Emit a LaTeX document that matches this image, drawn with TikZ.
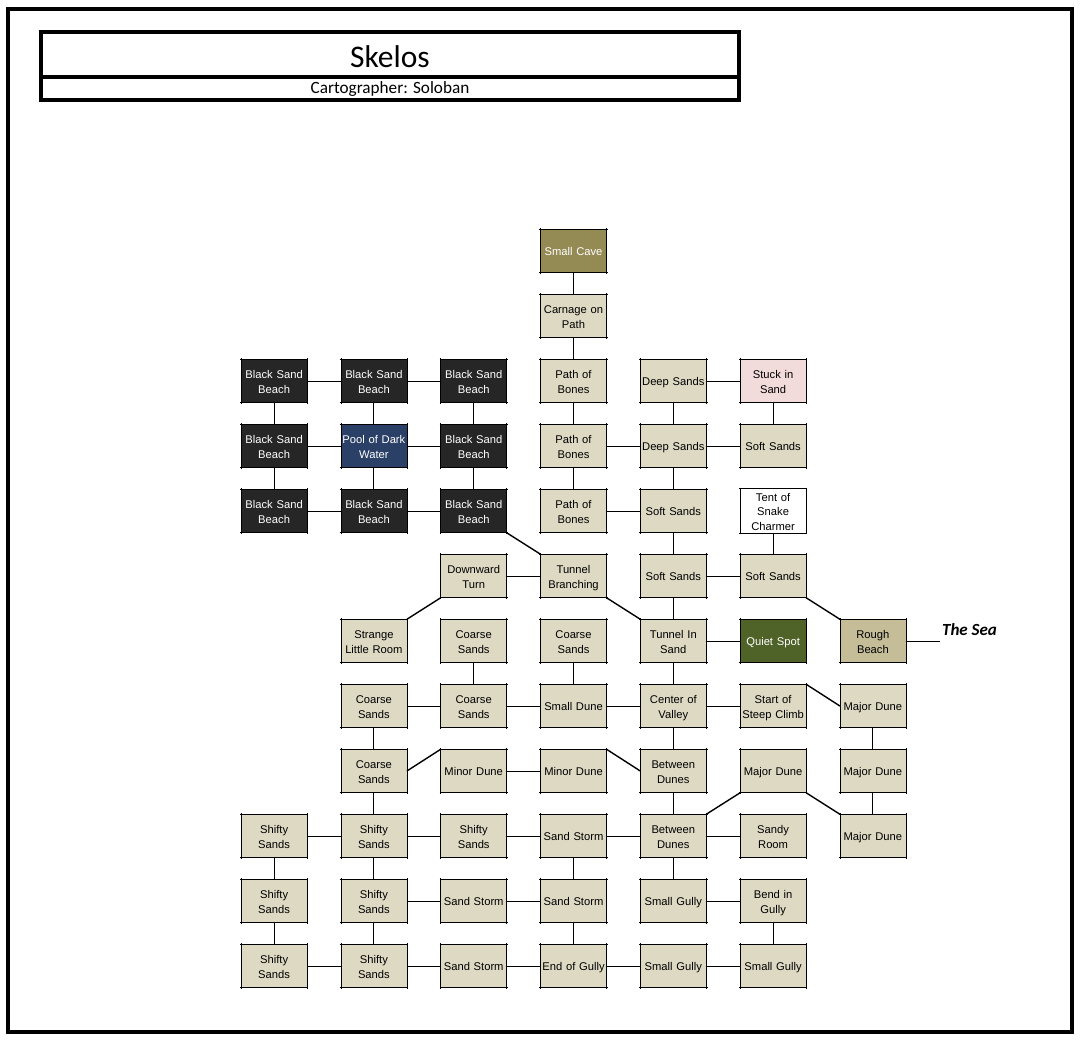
\documentclass[tikz,border=0pt]{standalone}
\usepackage{fontspec}
\setmainfont{Liberation Sans}
\newfontfamily\titlefont{Carlito}
\usetikzlibrary{positioning}
\newcommand{\roomstrut}{\rule[-2.4pt]{0pt}{14.7pt}}

\begin{document}
\begin{tikzpicture}[x=1pt, y=-1pt, node distance=21.5pt and 33.8pt,
		tick/.style={draw, line width=.8pt},
		room/.style={rectangle, draw, line width=.8pt, fill=sand, minimum width=66pt, minimum height=43.5pt, text width=66pt, inner sep=0pt, outer sep=0pt, align=center, font=\fontsize{11.2}{14.8}\selectfont, execute at begin node=\roomstrut, execute at end node=\roomstrut,
			append after command={([xshift=-1.2pt]\tikzlastnode.north west) edge[tick] ([xshift=1.2pt]\tikzlastnode.north east) ([xshift=-1.2pt]\tikzlastnode.south west) edge[tick] ([xshift=1.2pt]\tikzlastnode.south east) ([yshift=1.2pt]\tikzlastnode.north west) edge[tick] ([yshift=-1.2pt]\tikzlastnode.south west) ([yshift=1.2pt]\tikzlastnode.north east) edge[tick] ([yshift=-1.2pt]\tikzlastnode.south east)}},
		black/.style={room, fill=beach, text=white},
		link/.style={line width=1pt},
		diag/.style={line width=1.4pt},
		heavy/.style={line width=4pt}]
		\definecolor{sand}{HTML}{DDD9C3}
		\definecolor{beach}{HTML}{262626}
		\useasboundingbox (0,0) rectangle (1089,1042);
		\draw[heavy] (8,9) rectangle (1072,1032);

		\node[draw, heavy, minimum width=698pt, minimum height=45pt, inner sep=0pt, outer sep=0pt, text height=26pt, font=\titlefont\fontsize{31.5}{32}\selectfont] (title) at (390,54.5) {Skelos};
		\node[draw, heavy, minimum width=698pt, minimum height=23pt, inner sep=0pt, outer sep=0pt, below=0pt of title, text height=13pt, text depth=3.5pt, font=\titlefont\fontsize{17.2}{18}\selectfont] (cartographer) {Cartographer: Soloban};

		% centre column, top to bottom
		\node[room, fill={rgb,255:red,148;green,138;blue,84}, text=white] (cave) at (573.5,251) {Small Cave};
		\node[room, below=of cave] (carnage) {Carnage on\\Path};
		\node[room, below=of carnage] (bonesA) {Path of\\Bones};
		\node[room, below=of bonesA] (bonesB) {Path of\\Bones};
		\node[room, below=of bonesB] (bonesC) {Path of\\Bones};
		\node[room, below=of bonesC] (branching) {Tunnel\\Branching};
		\node[room, below=of branching] (coarseE) {Coarse\\Sands};
		\node[room, below=of coarseE] (smalldune) {Small Dune};
		\node[room, below=of smalldune] (minorB) {Minor Dune};
		\node[room, below=of minorB] (stormA) {Sand Storm};
		\node[room, below=of stormA] (stormB) {Sand Storm};
		\node[room, below=of stormB] (endgully) {End of Gully};

		% black beach
		\node[black, left=of bonesA] (beachC) {Black Sand\\Beach};
		\node[black, left=of beachC] (beachB) {Black Sand\\Beach};
		\node[black, left=of beachB] (beachA) {Black Sand\\Beach};
		\node[black, left=of bonesB] (beachF) {Black Sand\\Beach};
		\node[black, left=of beachF, fill={rgb,255:red,42;green,64;blue,102}] (pool) {Pool of Dark\\Water};
		\node[black, left=of pool] (beachD) {Black Sand\\Beach};
		\node[black, left=of bonesC] (beachI) {Black Sand\\Beach};
		\node[black, left=of beachI] (beachH) {Black Sand\\Beach};
		\node[black, left=of beachH] (beachG) {Black Sand\\Beach};

		% right of the centre column
		\node[room, right=of bonesA] (deepA) {Deep Sands};
		\node[room, right=of deepA, fill={rgb,255:red,242;green,220;blue,219}] (stuck) {Stuck in\\Sand};
		\node[room, right=of bonesB] (deepB) {Deep Sands};
		\node[room, right=of deepB] (softB) {Soft Sands};
		\node[room, right=of bonesC] (softA) {Soft Sands};
		\node[room, right=of softA, fill=white] (tent) {Tent of\\Snake\\Charmer};
		\node[room, right=of branching] (softC) {Soft Sands};
		\node[room, right=of softC] (softD) {Soft Sands};
		\node[room, left=of branching] (downward) {Downward\\Turn};

		\node[room, right=of coarseE] (tunnelsand) {Tunnel In\\Sand};
		\node[room, right=of tunnelsand, fill={rgb,255:red,79;green,98;blue,40}, text=white] (quiet) {Quiet Spot};
		\node[room, right=of quiet, fill={rgb,255:red,196;green,189;blue,151}] (rough) {Rough\\Beach};
		\node[font=\titlefont\bfseries\itshape\fontsize{17}{18}\selectfont] (sea) at (969.5,630) {The Sea};
		\coordinate (seaend) at (940,641);
		\node[room, left=of coarseE] (coarseD) {Coarse\\Sands};
		\node[room, left=of coarseD] (strange) {Strange\\Little Room};

		\node[room, left=of smalldune] (coarseC) {Coarse\\Sands};
		\node[room, left=of coarseC] (coarseB) {Coarse\\Sands};
		\node[room, right=of smalldune] (center) {Center of\\Valley};
		\node[room, right=of center] (climb) {Start of\\Steep Climb};
		\node[room, right=of climb] (majorA) {Major Dune};

		\node[room, left=of minorB] (minorA) {Minor Dune};
		\node[room, left=of minorA] (coarseA) {Coarse\\Sands};
		\node[room, right=of minorB] (betweenA) {Between\\Dunes};
		\node[room, right=of betweenA] (majorD) {Major Dune};
		\node[room, right=of majorD] (majorB) {Major Dune};

		\node[room, left=of stormA] (shiftyC) {Shifty\\Sands};
		\node[room, left=of shiftyC] (shiftyB) {Shifty\\Sands};
		\node[room, left=of shiftyB] (shiftyA) {Shifty\\Sands};
		\node[room, right=of stormA] (betweenB) {Between\\Dunes};
		\node[room, right=of betweenB] (sandy) {Sandy\\Room};
		\node[room, right=of sandy] (majorC) {Major Dune};

		\node[room, left=of stormB] (stormC) {Sand Storm};
		\node[room, left=of stormC] (shiftyE) {Shifty\\Sands};
		\node[room, left=of shiftyE] (shiftyD) {Shifty\\Sands};
		\node[room, right=of stormB] (gullyA) {Small Gully};
		\node[room, right=of gullyA] (bend) {Bend in\\Gully};

		\node[room, left=of endgully] (stormD) {Sand Storm};
		\node[room, left=of stormD] (shiftyG) {Shifty\\Sands};
		\node[room, left=of shiftyG] (shiftyF) {Shifty\\Sands};
		\node[room, right=of endgully] (gullyB) {Small Gully};
		\node[room, right=of gullyB] (gullyC) {Small Gully};

		% straight links
		\path[link] (cave) edge (carnage) (carnage) edge (bonesA) (bonesA) edge (bonesB) (bonesB) edge (bonesC);
		\path[link] (beachA) edge (beachB) (beachB) edge (beachC) (beachD) edge (pool) (pool) edge (beachF) (beachG) edge (beachH) (beachH) edge (beachI);
		\path[link] (beachA) edge (beachD) (beachD) edge (beachG) (beachB) edge (pool) (pool) edge (beachH) (beachC) edge (beachF) (beachF) edge (beachI);
		\path[link] (deepA) edge (stuck) (bonesB) edge (deepB) (deepB) edge (softB) (bonesC) edge (softA);
		\path[link] (deepA) edge (deepB) (deepB) edge (softA) (softA) edge (softC) (softC) edge (tunnelsand) (stuck) edge (softB) (tent) edge (softD);
		\path[link] (downward) edge (branching) (softC) edge (softD) (tunnelsand) edge (quiet) (rough) edge (seaend);
		\path[link] (coarseD) edge (coarseC) (coarseE) edge (smalldune) (tunnelsand) edge (center);
		\path[link] (coarseB) edge (coarseC) (coarseC) edge (smalldune) (smalldune) edge (center) (center) edge (climb);
		\path[link] (coarseB) edge (coarseA) (center) edge (betweenA) (majorA) edge (majorB) (majorB) edge (majorC);
		\path[link] (minorA) edge (minorB) (coarseA) edge (shiftyB) (betweenA) edge (betweenB) (betweenB) edge (sandy);
		\path[link] (shiftyA) edge (shiftyB) (shiftyB) edge (shiftyC) (shiftyC) edge (stormA) (stormA) edge (betweenB);
		\path[link] (shiftyA) edge (shiftyD) (shiftyD) edge (shiftyF) (shiftyB) edge (shiftyE) (shiftyE) edge (shiftyG);
		\path[link] (shiftyE) edge (stormC) (stormC) edge (stormB) (gullyA) edge (bend) (stormA) edge (stormB) (stormB) edge (endgully) (betweenB) edge (gullyA) (bend) edge (gullyC);
		\path[link] (shiftyF) edge (shiftyG) (shiftyG) edge (stormD) (stormD) edge (endgully) (endgully) edge (gullyB) (gullyB) edge (gullyC);

		% slanted links, corner to corner
		\path[diag] (beachI.south east) edge (branching.north west);
		\path[diag] (branching.south east) edge (tunnelsand.north west);
		\path[diag] (downward.south west) edge (strange.north east);
		\path[diag] (softD.south east) edge (rough.north west);
		\path[diag] (climb.north east) edge (majorA.west);
		\path[diag] (coarseA.east) edge (minorA.north west);
		\path[diag] (minorB.north east) edge (betweenA.west);
		\path[diag] (betweenB.north east) edge (majorD.south west);
		\path[diag] (majorD.south east) edge (majorC.north west);
	\end{tikzpicture}
\end{document}
